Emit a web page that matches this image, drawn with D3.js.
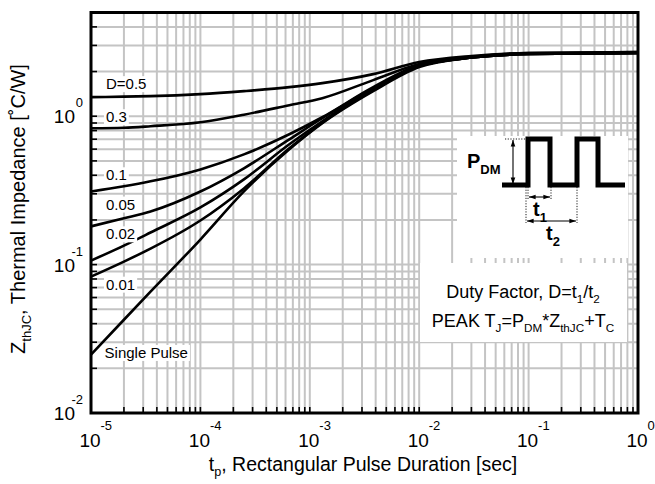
<!DOCTYPE html>
<html><head><meta charset="utf-8">
<script src="https://cdn.jsdelivr.net/npm/d3@7"></script>
<style>
body{margin:0;background:#fff}
svg{display:block}
text{font-family:Arial,"Liberation Sans",sans-serif;fill:#000}
</style>
</head><body>
<svg id="c" width="655" height="484"></svg>
<script>
// ---- data ----
const tValues = [1e-5, 2e-5, 3.5e-5, 1e-4, 2.5e-4, 6.5e-4, 1.3e-3, 3.8e-3, 1e-2, 3e-2, 1e-1, 1];
const zD05    = [1.344,1.355,1.365,1.408,1.476,1.570,1.671,1.922,2.317,2.544,2.666,2.706];
const zD03    = [0.830,0.836,0.856,0.911,1.024,1.187,1.323,1.751,2.246,2.504,2.666,2.706];
const zD01    = [0.311,0.337,0.364,0.438,0.553,0.756,0.984,1.570,2.211,2.504,2.644,2.666];
const zD005   = [0.181,0.205,0.228,0.311,0.446,0.699,0.969,1.546,2.177,2.485,2.624,2.666];
const zD002   = [0.1064,0.1344,0.1645,0.2427,0.3752,0.6468,0.9252,1.522,2.177,2.485,2.624,2.666];
const zD001   = [0.0830,0.1048,0.1282,0.1983,0.3263,0.6078,0.9038,1.4987,2.177,2.485,2.624,2.666];
const zSingle = [0.0247,0.0425,0.0657,0.1476,0.3112,0.5985,0.8968,1.4756,2.144,2.485,2.624,2.666];
const seriesLabels = ["D=0.5","0.3","0.1","0.05","0.02","0.01","Single Pulse"];
const labelT = [1.37e-5,1.37e-5,1.37e-5,1.37e-5,1.37e-5,1.37e-5,1.33e-5];
const labelZ = [1.522,0.911,0.370,0.235,0.148,0.0678,0.0235];
const xTickExponents = [-5,-4,-3,-2,-1,0];
const yTickExponents = [-2,-1,0];
const xDomain = [1e-5, 1];
const yDomain = [0.01, 5];

const allSeries = [zD05, zD03, zD01, zD005, zD002, zD001, zSingle];

// ---- layout ----
const L = 91, R = 638, T = 12.5, B = 413;
const svg = d3.select("#c");
const x = d3.scaleLog().domain(xDomain).range([L, R]);
const y = d3.scaleLog().domain(yDomain).range([B, T]);

const defs = svg.append("defs");
defs.append("clipPath").attr("id","clip")
  .append("rect").attr("x",L).attr("y",T).attr("width",R-L).attr("height",B-T);
defs.append("marker").attr("id","ah").attr("viewBox","0 0 10 10").attr("refX",10).attr("refY",5)
  .attr("markerWidth",6).attr("markerHeight",6).attr("orient","auto-start-reverse")
  .append("path").attr("d","M0,1.5 L10,5 L0,8.5 Z").attr("fill","#000");

// grid values
const xGrid = [];
for (let k = xTickExponents[0]; k < xTickExponents[xTickExponents.length-1]; k++)
  for (let m = 1; m <= 9; m++) xGrid.push(m*Math.pow(10,k));
xGrid.push(1);
const yGrid = [];
for (let k = yTickExponents[0]; k <= yTickExponents[yTickExponents.length-1]; k++)
  for (let m = 1; m <= 9; m++) { const v = m*Math.pow(10,k); if (v <= yDomain[1]*1.0001) yGrid.push(v); }

const grid = svg.append("g").attr("stroke","#c4c4c4").attr("stroke-width",2);
grid.selectAll("line.v").data(xGrid).join("line").attr("class","v")
  .attr("x1",d=>x(d)).attr("x2",d=>x(d)).attr("y1",T).attr("y2",B);
grid.selectAll("line.h").data(yGrid).join("line").attr("class","h")
  .attr("y1",d=>y(d)).attr("y2",d=>y(d)).attr("x1",L).attr("x2",R);

// curves
const line = d3.line().x(d=>x(d[0])).y(d=>y(d[1])).curve(d3.curveMonotoneX);
const cg = svg.append("g").attr("clip-path","url(#clip)");
allSeries.forEach(s => {
  cg.append("path").datum(tValues.map((t,i)=>[t,s[i]]))
    .attr("d", line).attr("fill","none").attr("stroke","#000").attr("stroke-width",2.6);
});

// curve labels with white background
const lg = svg.append("g");
seriesLabels.forEach((lab,i) => {
  const g = lg.append("g");
  const tx = g.append("text").attr("x", x(labelT[i])).attr("y", y(labelZ[i]))
    .attr("font-size",15).text(lab);
  const bb = tx.node().getBBox();
  g.insert("rect","text").attr("x",bb.x-2).attr("y",bb.y+1).attr("width",bb.width+4).attr("height",bb.height-1).attr("fill","#fff");
});

// rich text helper (sub/superscripts via dy on following tspans)
function rich(sel, parts, size) {
  let pending = 0;
  parts.forEach(([txt, kind]) => {
    const ts = sel.append("tspan").text(txt);
    let shift = 0;
    if (kind === "sub") { shift = size*0.28; ts.attr("font-size", size*0.65); }
    else if (kind === "sup") { shift = -size*0.45; ts.attr("font-size", size*0.65); }
    const dy = pending + shift;
    if (dy !== 0) ts.attr("dy", dy);
    pending = -shift;
  });
}

// ---- inset: pulse diagram ----
const ins = svg.append("g");
ins.append("rect").attr("x",457).attr("y",136).attr("width",171).attr("height",122).attr("fill","#fff");
ins.append("rect").attr("x",420).attr("y",263).attr("width",207).attr("height",79).attr("fill","#fff");

ins.append("path").attr("d","M502,185 H528 V139 H550 V185 H577 V139 H598 V185 H625")
  .attr("fill","none").attr("stroke","#000").attr("stroke-width",5).attr("stroke-linejoin","miter");
["M505,139 H526","M528,187 V200","M551,187 V199","M526,187 V223","M577,187 V223"].forEach(d=>{
  ins.append("path").attr("d",d).attr("fill","none").attr("stroke","#000")
    .attr("stroke-width",0.9).attr("stroke-dasharray","1.2,1.5");
});
["M513,140 V184","M529,197 H550","M527,221 H576"].forEach(d=>{
  ins.append("path").attr("d",d).attr("stroke","#000").attr("stroke-width",1.1).attr("fill","none")
    .attr("marker-start","url(#ah)").attr("marker-end","url(#ah)");
});
const pdm = ins.append("text").attr("x",467).attr("y",168).attr("font-size",20).attr("font-weight","bold");
rich(pdm, [["P","n"],["DM","sub"]], 20);
const t1 = ins.append("text").attr("x",533).attr("y",216).attr("font-size",20).attr("font-weight","bold");
rich(t1, [["t","n"],["1","sub"]], 20);
const t2 = ins.append("text").attr("x",546).attr("y",240).attr("font-size",20).attr("font-weight","bold");
rich(t2, [["t","n"],["2","sub"]], 20);

const d1 = ins.append("text").attr("x",523).attr("y",298).attr("font-size",18).attr("text-anchor","middle");
rich(d1, [["Duty Factor, D=t","n"],["1","sub"],["/t","n"],["2","sub"]], 18);
const d2 = ins.append("text").attr("x",523).attr("y",327).attr("font-size",18).attr("text-anchor","middle");
rich(d2, [["PEAK T","n"],["J","sub"],["=P","n"],["DM","sub"],["*Z","n"],["thJC","sub"],["+T","n"],["C","sub"]], 18);

// ---- frame and ticks ----
svg.append("rect").attr("x",L).attr("y",T).attr("width",R-L).attr("height",B-T)
  .attr("fill","none").attr("stroke","#000").attr("stroke-width",3);
const tk = svg.append("g").attr("stroke","#000").attr("stroke-width",1.6);
tk.selectAll("line.xt").data(xGrid).join("line").attr("class","xt")
  .attr("x1",d=>x(d)).attr("x2",d=>x(d)).attr("y1",B).attr("y2",B-6);
tk.selectAll("line.yt").data(yGrid).join("line").attr("class","yt")
  .attr("y1",d=>y(d)).attr("y2",d=>y(d)).attr("x1",L).attr("x2",L+6);

// tick labels
xTickExponents.forEach(e => {
  const px = x(Math.pow(10,e));
  svg.append("text").attr("x",px-1).attr("y",447).attr("font-size",19).attr("text-anchor","middle").text("10");
  svg.append("text").attr("x",px+9.5).attr("y",430).attr("font-size",13).text(String(e));
});
yTickExponents.forEach(e => {
  const py = y(Math.pow(10,e));
  svg.append("text").attr("x",75).attr("y",py+7).attr("font-size",19).attr("text-anchor","end").text("10");
  svg.append("text").attr("x",83).attr("y",py-9).attr("font-size",13).attr("text-anchor","end").text(String(e));
});

// axis titles
const xt = svg.append("text").attr("x",363).attr("y",471).attr("font-size",19.5).attr("text-anchor","middle");
rich(xt, [["t","n"],["p","sub"],[", Rectangular Pulse Duration [sec]","n"]], 19.5);
const yt = svg.append("text").attr("transform","translate(25,209) rotate(-90)").attr("font-size",20).attr("text-anchor","middle");
rich(yt, [["Z","n"],["thJC","sub"],[", Thermal Impedance [\u02daC/W]","n"]], 20);
</script>
</body></html>
